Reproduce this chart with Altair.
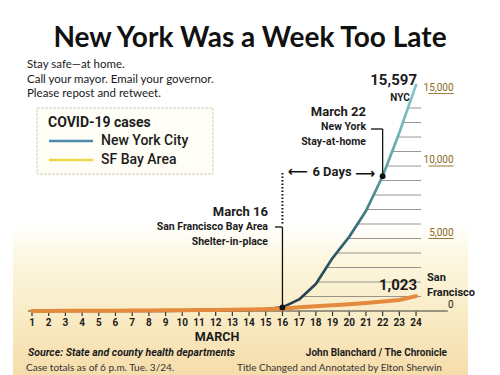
import altair as alt
import pandas as pd
import numpy as np

# ---------------- data ----------------
days = list(range(1, 25))
nyc = [0, 0, 1, 1, 2, 3, 5, 8, 12, 18, 25, 35, 50, 80, 130, 250,
       800, 1860, 3650, 5120, 6900, 9300, 12300, 15597]
sf = [5, 8, 10, 14, 18, 24, 30, 38, 46, 55, 65, 75, 88, 100, 120, 150,
      260, 330, 400, 470, 550, 650, 760, 1023]
grid_values = list(range(1000, 15000, 1000))
ylabel_values = [0, 5000, 10000, 15000]
ylabel_texts = ["0", "5,000", "10,000", "15,000"]

W, H = 484, 303
xs = alt.Scale(domain=[-0.4375, 28.55], nice=False, zero=False)
ys = alt.Scale(domain=[0, 20900], nice=False, zero=False)

lines_df = pd.DataFrame({"day": days, "nyc": nyc, "sf": sf})
days_df = pd.DataFrame({"day": days, "lab": [str(d) for d in days]})

# gridlines start where the NYC curve crosses each value
gx = np.interp(grid_values, nyc[15:], days[15:])
grid_df = pd.DataFrame({"v": grid_values, "x0": gx, "x1": [24.3] * len(grid_values)})

ylab_df = pd.DataFrame({"v": ylabel_values, "t": ylabel_texts,
                        "xl": [26.25] * 4, "u0": [24.75] * 4})

LATO = "Lato"
SANS = "Roboto"


def txt(s, x, y, size, weight="normal", align="left", font=SANS,
        color="#1c1c1c", style="normal"):
    return alt.Chart(pd.DataFrame({"t": [s]})).mark_text(
        align=align, baseline="middle", fontSize=size, fontWeight=weight,
        font=font, color=color, fontStyle=style
    ).encode(x=alt.value(x), y=alt.value(y), text="t:N")


bg = alt.Chart(pd.DataFrame({"a": [0]})).mark_rect(
    color=alt.Gradient(
        gradient="linear", x1=0, y1=0, x2=0, y2=1,
        stops=[alt.GradientStop(color="#ffffff", offset=0),
               alt.GradientStop(color="#fcf6de", offset=0.25),
               alt.GradientStop(color="#f9ecc6", offset=0.6),
               alt.GradientStop(color="#f6dcaa", offset=1)])
).encode(x=alt.value(5), x2=alt.value(460), y=alt.value(215), y2=alt.value(367))

grid = alt.Chart(grid_df).mark_rule(color="#8c8a80", strokeWidth=0.9).encode(
    x=alt.X("x0:Q", scale=xs, axis=None), x2="x1:Q",
    y=alt.Y("v:Q", scale=ys, axis=None))

ylab = alt.Chart(ylab_df).mark_text(
    align="right", baseline="bottom", dy=-1, fontSize=10, font=SANS
).encode(
    x=alt.X("xl:Q", scale=xs, axis=None),
    y=alt.Y("v:Q", scale=ys, axis=None),
    text="t:N",
    color=alt.condition(alt.datum.v == 0, alt.value("#1c1c1c"), alt.value("#8a6a1e")))

yund = alt.Chart(ylab_df).transform_filter(alt.datum.v > 0).mark_rule(
    color="#8a6a1e", strokeWidth=0.9).encode(
    x=alt.X("u0:Q", scale=xs, axis=None), x2="xl:Q",
    y=alt.Y("v:Q", scale=ys, axis=None))

axis_line = alt.Chart(pd.DataFrame({"a": [0.76], "b": [25.9], "v": [0]})).mark_rule(
    color="#3a3a3a", strokeWidth=1.2).encode(
    x=alt.X("a:Q", scale=xs, axis=None), x2="b:Q",
    y=alt.Y("v:Q", scale=ys, axis=None))

x_ticks = alt.Chart(days_df).mark_rule(color="#333333", strokeWidth=1.2).encode(
    x=alt.X("day:Q", scale=xs, axis=None), y=alt.value(303.5), y2=alt.value(308))
x_labels = alt.Chart(days_df).mark_text(
    fontSize=10, fontWeight="bold", font=SANS, color="#1c1c1c", baseline="middle"
).encode(x=alt.X("day:Q", scale=xs, axis=None), y=alt.value(315), text="lab:N")

nyc_line = alt.Chart(lines_df).mark_line(
    strokeWidth=2.7, strokeCap="round", strokeJoin="round",
    color=alt.Gradient(
        gradient="linear", x1=0, y1=0, x2=0, y2=1,
        stops=[alt.GradientStop(color="#86c6c6", offset=0),
               alt.GradientStop(color="#5ea6aa", offset=0.35),
               alt.GradientStop(color="#30606c", offset=0.7),
               alt.GradientStop(color="#22384a", offset=1)])
).encode(x=alt.X("day:Q", scale=xs, axis=None), y=alt.Y("nyc:Q", scale=ys, axis=None))

sf_line = alt.Chart(lines_df).mark_line(
    strokeWidth=4, strokeCap="round", strokeJoin="round", color="#e38a3e"
).encode(x=alt.X("day:Q", scale=xs, axis=None), y=alt.Y("sf:Q", scale=ys, axis=None))

# annotation leaders
dots_df = pd.DataFrame({"day": [16, 22], "v": [nyc[15], nyc[21]]})
dots = alt.Chart(dots_df).mark_circle(size=34, color="#111111", opacity=1).encode(
    x=alt.X("day:Q", scale=xs, axis=None), y=alt.Y("v:Q", scale=ys, axis=None))

lead16_v = alt.Chart(pd.DataFrame({"d": [16], "v": [nyc[15]]})).mark_rule(
    color="#111111", strokeWidth=1.3).encode(
    x=alt.X("d:Q", scale=xs, axis=None),
    y=alt.Y("v:Q", scale=ys, axis=None), y2=alt.value(219))
lead16_h = alt.Chart(pd.DataFrame({"d": [16]})).mark_rule(
    color="#111111", strokeWidth=1.3).encode(
    x=alt.X("d:Q", scale=xs, axis=None), x2=alt.value(267), y=alt.value(219))
dotted16 = alt.Chart(pd.DataFrame({"d": [16]})).mark_rule(
    color="#111111", strokeWidth=2, strokeDash=[1.5, 2]).encode(
    x=alt.X("d:Q", scale=xs, axis=None), y=alt.value(165), y2=alt.value(216))
lead22_v = alt.Chart(pd.DataFrame({"d": [22], "v": [nyc[21]]})).mark_rule(
    color="#111111", strokeWidth=1.3).encode(
    x=alt.X("d:Q", scale=xs, axis=None),
    y=alt.Y("v:Q", scale=ys, axis=None), y2=alt.value(121))
lead22_h = alt.Chart(pd.DataFrame({"d": [22]})).mark_rule(
    color="#111111", strokeWidth=1.3).encode(
    x=alt.X("d:Q", scale=xs, axis=None), x2=alt.value(363), y=alt.value(121))

# legend box
legend_box = alt.Chart(pd.DataFrame({"a": [0]})).mark_rect(
    fill="#fefdf6", stroke="#d4cfb8", strokeWidth=1, strokeDash=[3, 1]).encode(
    x=alt.value(29), x2=alt.value(205), y=alt.value(100), y2=alt.value(166))
leg_nyc = alt.Chart(pd.DataFrame({"a": [0]})).mark_rule(
    color="#4d8aab", strokeWidth=2.5).encode(
    x=alt.value(41), x2=alt.value(85), y=alt.value(133))
leg_sf = alt.Chart(pd.DataFrame({"a": [0]})).mark_rule(
    color="#eed54a", strokeWidth=2.5).encode(
    x=alt.value(41), x2=alt.value(85), y=alt.value(152))

texts = [
    txt("New York Was a Week Too Late", 242, 31, 28, "bold", "center", LATO, "#111111"),
    txt("Stay safe\u2014at home.", 19, 57, 11.5, "normal", "left", LATO, "#1a1a1a"),
    txt("Call your mayor. Email your governor.", 19, 72, 11.5, "normal", "left", LATO, "#1a1a1a"),
    txt("Please repost and retweet.", 19, 86, 11.5, "normal", "left", LATO, "#1a1a1a"),
    txt("COVID-19 cases", 40, 115, 14, "bold"),
    txt("New York City", 93, 133, 14, 500),
    txt("SF Bay Area", 93, 152, 14, 500),
    txt("15,597", 409, 72, 15, "bold", "right"),
    txt("NYC", 392, 90, 10, "bold", "center"),
    txt("March 22", 358, 104, 13, "bold", "right"),
    txt("New York", 358, 119, 10.5, "bold", "right"),
    txt("Stay-at-home", 358, 134, 10.5, "bold", "right"),
    txt("6 Days", 324, 164, 13, "bold", "center"),
    txt("\u27f5", 290, 164, 14, "bold", "center", "DejaVu Sans", "#111111"),
    txt("\u27f6", 357, 166, 14, "bold", "center", "DejaVu Sans", "#111111"),
    txt("March 16", 260, 204, 13, "bold", "right"),
    txt("San Francisco Bay Area", 260, 219, 10.5, "bold", "right"),
    txt("Shelter-in-place", 260, 234, 10.5, "bold", "right"),
    txt("1,023", 409, 277, 15, "bold", "right"),
    txt("San", 419, 270, 11, "bold"),
    txt("Francisco", 419, 285, 11, "bold"),
    txt("MARCH", 209, 329, 12.5, "bold", "center"),
    txt("Source: State and county health departments", 20, 345, 10.5, "bold", "left", SANS, "#1c1c1c", "italic"),
    txt("John Blanchard / The Chronicle", 439, 345, 10, "bold", "right"),
    txt("Case totals as of 6 p.m. Tue. 3/24.", 18, 360, 10, "normal", "left", LATO, "#333333"),
    txt("Title Changed and Annotated by Elton Sherwin", 229, 360, 10, "normal", "left", LATO, "#333333"),
]

chart = alt.layer(
    bg, legend_box, leg_nyc, leg_sf, grid, yund, ylab, axis_line, x_ticks, x_labels,
    nyc_line, sf_line, dotted16, lead16_h, lead16_v, lead22_h, lead22_v, dots,
    *texts
).properties(
    width=W, height=H,
    padding={"left": 0, "top": 0, "right": 0, "bottom": 64},
    autosize=alt.AutoSizeParams(type="none"),
).configure_view(stroke=None)

chart.save("out.html", embed_options={"renderer": "svg", "actions": False})
